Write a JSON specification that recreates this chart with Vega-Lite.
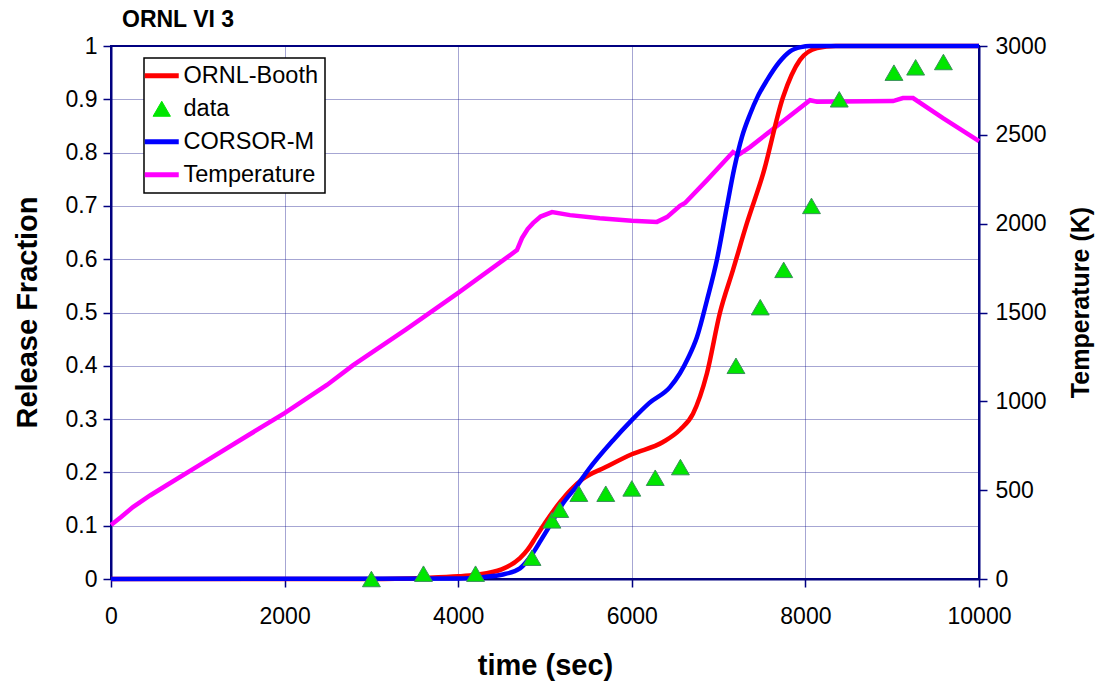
{
  "$schema": "https://vega.github.io/schema/vega-lite/v6.json",
  "width": 868,
  "height": 533,
  "autosize": {"type": "none"},
  "padding": {"left": 111, "top": 46, "right": 122, "bottom": 107},
  "background": "white",
  "title": {"text": "ORNL VI 3", "anchor": "start", "frame": "group", "dx": 11, "dy": 12, "offset": 15, "fontSize": 23, "fontWeight": "bold", "font": "Liberation Sans", "color": "black"},
  "data": {"values": [
    {"series": "Temperature", "t": 0, "v": 304},
    {"series": "Temperature", "t": 120, "v": 350},
    {"series": "Temperature", "t": 253, "v": 405},
    {"series": "Temperature", "t": 450, "v": 470},
    {"series": "Temperature", "t": 645, "v": 529},
    {"series": "Temperature", "t": 1000, "v": 635},
    {"series": "Temperature", "t": 1500, "v": 785},
    {"series": "Temperature", "t": 2000, "v": 934},
    {"series": "Temperature", "t": 2488, "v": 1092},
    {"series": "Temperature", "t": 2790, "v": 1204},
    {"series": "Temperature", "t": 3400, "v": 1405},
    {"series": "Temperature", "t": 4000, "v": 1610},
    {"series": "Temperature", "t": 4677, "v": 1851},
    {"series": "Temperature", "t": 4735, "v": 1919},
    {"series": "Temperature", "t": 4800, "v": 1970},
    {"series": "Temperature", "t": 4862, "v": 2003},
    {"series": "Temperature", "t": 4950, "v": 2040},
    {"series": "Temperature", "t": 5081, "v": 2065},
    {"series": "Temperature", "t": 5288, "v": 2048},
    {"series": "Temperature", "t": 5630, "v": 2030},
    {"series": "Temperature", "t": 6000, "v": 2017},
    {"series": "Temperature", "t": 6290, "v": 2010},
    {"series": "Temperature", "t": 6405, "v": 2037},
    {"series": "Temperature", "t": 6555, "v": 2100},
    {"series": "Temperature", "t": 6613, "v": 2116},
    {"series": "Temperature", "t": 6866, "v": 2245},
    {"series": "Temperature", "t": 7166, "v": 2403},
    {"series": "Temperature", "t": 7224, "v": 2386},
    {"series": "Temperature", "t": 7362, "v": 2431},
    {"series": "Temperature", "t": 8053, "v": 2695},
    {"series": "Temperature", "t": 8134, "v": 2686},
    {"series": "Temperature", "t": 9009, "v": 2690},
    {"series": "Temperature", "t": 9124, "v": 2707},
    {"series": "Temperature", "t": 9240, "v": 2707},
    {"series": "Temperature", "t": 9585, "v": 2594},
    {"series": "Temperature", "t": 10000, "v": 2465},
    {"series": "ORNL-Booth", "t": 0, "v": 0},
    {"series": "ORNL-Booth", "t": 3000, "v": 0},
    {"series": "ORNL-Booth", "t": 3600, "v": 0.002},
    {"series": "ORNL-Booth", "t": 4000, "v": 0.005},
    {"series": "ORNL-Booth", "t": 4200, "v": 0.008},
    {"series": "ORNL-Booth", "t": 4500, "v": 0.018},
    {"series": "ORNL-Booth", "t": 4712, "v": 0.039},
    {"series": "ORNL-Booth", "t": 4800, "v": 0.055},
    {"series": "ORNL-Booth", "t": 4900, "v": 0.08},
    {"series": "ORNL-Booth", "t": 5000, "v": 0.105},
    {"series": "ORNL-Booth", "t": 5173, "v": 0.144},
    {"series": "ORNL-Booth", "t": 5300, "v": 0.168},
    {"series": "ORNL-Booth", "t": 5438, "v": 0.188},
    {"series": "ORNL-Booth", "t": 5700, "v": 0.21},
    {"series": "ORNL-Booth", "t": 6000, "v": 0.234},
    {"series": "ORNL-Booth", "t": 6360, "v": 0.257},
    {"series": "ORNL-Booth", "t": 6555, "v": 0.28},
    {"series": "ORNL-Booth", "t": 6705, "v": 0.31},
    {"series": "ORNL-Booth", "t": 6866, "v": 0.386},
    {"series": "ORNL-Booth", "t": 7016, "v": 0.5},
    {"series": "ORNL-Booth", "t": 7166, "v": 0.58},
    {"series": "ORNL-Booth", "t": 7327, "v": 0.668},
    {"series": "ORNL-Booth", "t": 7512, "v": 0.76},
    {"series": "ORNL-Booth", "t": 7742, "v": 0.904},
    {"series": "ORNL-Booth", "t": 7938, "v": 0.974},
    {"series": "ORNL-Booth", "t": 8134, "v": 0.996},
    {"series": "ORNL-Booth", "t": 8350, "v": 1.0},
    {"series": "ORNL-Booth", "t": 10000, "v": 1.0},
    {"series": "CORSOR-M", "t": 0, "v": 0},
    {"series": "CORSOR-M", "t": 4000, "v": 0.001},
    {"series": "CORSOR-M", "t": 4300, "v": 0.004},
    {"series": "CORSOR-M", "t": 4500, "v": 0.008},
    {"series": "CORSOR-M", "t": 4712, "v": 0.02},
    {"series": "CORSOR-M", "t": 4862, "v": 0.049},
    {"series": "CORSOR-M", "t": 4950, "v": 0.072},
    {"series": "CORSOR-M", "t": 5092, "v": 0.11},
    {"series": "CORSOR-M", "t": 5200, "v": 0.14},
    {"series": "CORSOR-M", "t": 5369, "v": 0.175},
    {"series": "CORSOR-M", "t": 5500, "v": 0.205},
    {"series": "CORSOR-M", "t": 5783, "v": 0.26},
    {"series": "CORSOR-M", "t": 6000, "v": 0.298},
    {"series": "CORSOR-M", "t": 6200, "v": 0.33},
    {"series": "CORSOR-M", "t": 6440, "v": 0.36},
    {"series": "CORSOR-M", "t": 6555, "v": 0.386},
    {"series": "CORSOR-M", "t": 6650, "v": 0.415},
    {"series": "CORSOR-M", "t": 6751, "v": 0.454},
    {"series": "CORSOR-M", "t": 6866, "v": 0.523},
    {"series": "CORSOR-M", "t": 6982, "v": 0.6},
    {"series": "CORSOR-M", "t": 7097, "v": 0.7},
    {"series": "CORSOR-M", "t": 7180, "v": 0.77},
    {"series": "CORSOR-M", "t": 7270, "v": 0.83},
    {"series": "CORSOR-M", "t": 7362, "v": 0.872},
    {"series": "CORSOR-M", "t": 7450, "v": 0.905},
    {"series": "CORSOR-M", "t": 7558, "v": 0.936},
    {"series": "CORSOR-M", "t": 7700, "v": 0.97},
    {"series": "CORSOR-M", "t": 7823, "v": 0.99},
    {"series": "CORSOR-M", "t": 7950, "v": 0.998},
    {"series": "CORSOR-M", "t": 8053, "v": 1.0},
    {"series": "CORSOR-M", "t": 10000, "v": 1.0},
    {"series": "data", "t": 3000, "v": 0.0},
    {"series": "data", "t": 3600, "v": 0.01},
    {"series": "data", "t": 4200, "v": 0.01},
    {"series": "data", "t": 4850, "v": 0.04},
    {"series": "data", "t": 5080, "v": 0.11},
    {"series": "data", "t": 5170, "v": 0.13},
    {"series": "data", "t": 5390, "v": 0.16},
    {"series": "data", "t": 5700, "v": 0.16},
    {"series": "data", "t": 6000, "v": 0.17},
    {"series": "data", "t": 6270, "v": 0.19},
    {"series": "data", "t": 6560, "v": 0.21},
    {"series": "data", "t": 7200, "v": 0.4},
    {"series": "data", "t": 7480, "v": 0.51},
    {"series": "data", "t": 7750, "v": 0.58},
    {"series": "data", "t": 8070, "v": 0.7},
    {"series": "data", "t": 8390, "v": 0.9},
    {"series": "data", "t": 9020, "v": 0.95},
    {"series": "data", "t": 9270, "v": 0.96},
    {"series": "data", "t": 9590, "v": 0.97}
  ]},
  "encoding": {
    "x": {"field": "t", "type": "quantitative",
      "scale": {"domain": [0, 10000], "nice": false},
      "axis": {"values": [0, 2000, 4000, 6000, 8000, 10000], "format": "d", "title": "time (sec)", "labelFlush": false,
        "titleX": 434, "titleY": 86, "titleBaseline": "middle", "titleFontSize": 29, "labelPadding": 18}},
    "color": {"field": "series", "type": "nominal",
      "scale": {"domain": ["ORNL-Booth", "data", "CORSOR-M", "Temperature"], "range": ["#ff0000", "#00e600", "#0000ff", "#ff00ff"]},
      "legend": {
        "title": null, "orient": "none", "legendX": 33, "legendY": 12,
        "fillColor": "white", "strokeColor": "black", "padding": 6,
        "labelFontSize": 23.5, "labelFont": "Liberation Sans", "labelColor": "black", "labelOffset": 10,
        "symbolType": "stroke", "symbolSize": 1156, "symbolStrokeWidth": 5, "rowPadding": 8,
        "encode": {"symbols": {"update": {
          "shape": {"signal": "datum.value === 'data' ? 'triangle-up' : 'stroke'"},
          "size": {"signal": "datum.value === 'data' ? 300 : 1156"},
          "fill": {"signal": "datum.value === 'data' ? '#00e600' : 'transparent'"},
          "stroke": {"signal": "datum.value === 'data' ? '#3a8f5a' : scale('color', datum.value)"},
          "strokeWidth": {"signal": "datum.value === 'data' ? 1 : 5"}
        }}}
      }}
  },
  "layer": [
    {
      "transform": [{"filter": "datum.series === 'Temperature'"}],
      "mark": {"type": "line", "strokeWidth": 4.5},
      "encoding": {
        "y": {"field": "v", "type": "quantitative", "scale": {"domain": [0, 3000], "nice": false},
          "axis": {"orient": "right", "values": [0, 500, 1000, 1500, 2000, 2500, 3000], "format": "d", "grid": false, "labelFlush": false,
            "title": "Temperature (K)", "titleX": 101, "titleY": 256, "titleAngle": -90, "titleBaseline": "middle", "titleAlign": "center", "titleFontSize": 25, "labelPadding": 8}}
      }
    },
    {
      "encoding": {
        "y": {"field": "v", "type": "quantitative", "scale": {"domain": [0, 1], "nice": false},
          "axis": {"values": [0, 0.1, 0.2, 0.3, 0.4, 0.5, 0.6, 0.7, 0.8, 0.9, 1], "format": "~g", "grid": true, "labelFlush": false,
            "title": "Release Fraction", "titleX": -84, "titleY": 266, "titleAngle": -90, "titleBaseline": "middle", "titleAlign": "center", "titleFontSize": 29, "labelPadding": 6}}
      },
      "layer": [
        {
          "transform": [{"filter": "datum.series === 'ORNL-Booth'"}],
          "mark": {"type": "line", "strokeWidth": 4.5, "interpolate": "monotone"}
        },
        {
          "transform": [{"filter": "datum.series === 'CORSOR-M'"}],
          "mark": {"type": "line", "strokeWidth": 4.5, "interpolate": "monotone"}
        },
        {
          "transform": [{"filter": "datum.series === 'data'"}],
          "mark": {"type": "point", "shape": "triangle-up", "filled": true, "size": 320, "stroke": "#3a8f5a", "strokeWidth": 1, "opacity": 1}
        }
      ]
    }
  ],
  "resolve": {"scale": {"y": "independent"}},
  "config": {
    "font": "Liberation Sans",
    "view": {"stroke": "#000080", "strokeWidth": 2},
    "legend": {"strokeWidth": 1.5},
    "axis": {
      "labelFontSize": 23, "labelColor": "black", "labelFont": "Liberation Sans",
      "titleFont": "Liberation Sans", "titleFontWeight": "bold", "titleColor": "black",
      "domainColor": "#000080", "domainWidth": 2,
      "tickColor": "#000080", "tickWidth": 1.5, "tickSize": 8,
      "gridColor": "#000080", "gridDash": [1, 1], "gridOpacity": 0.7, "gridWidth": 1
    }
  }
}
